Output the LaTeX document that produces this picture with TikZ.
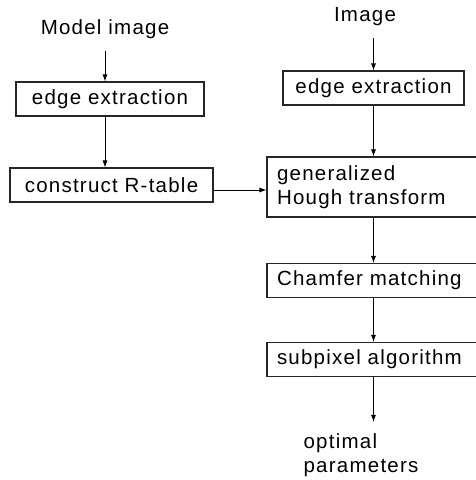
\documentclass[tikz,border=0pt]{standalone}
\usepackage{fontspec}
\setmainfont{Liberation Sans}[LetterSpace=6]
\usepackage{tikz}
\usetikzlibrary{arrows.meta}
\tikzstyle{stage}=[rectangle,
	line width=1.1pt,
	minimum height=34pt,
	draw=black!85]
\tikzstyle{wide}=[stage,
	text width=195pt,
	inner xsep=10pt,
	align=left]
\tikzstyle{caption}=[inner sep=0pt,
	outer sep=12pt]
\tikzstyle{flow}=[-{Latex[length=7pt,width=5pt]},
	line width=0.8pt]

\begin{document}
\begin{tikzpicture}[x=1pt, y=1pt, font=\fontsize{20.5}{24}\selectfont]
					\useasboundingbox (0,0) rectangle (476,-480);
					\clip (0,0) rectangle (476,-480);

					\node (model) [caption] at (105,-29) {Model image};
					\node (medge) [stage, minimum width=188pt, below of=model, node distance=70pt, xshift=5pt]{edge extraction};
					\draw[flow] (model.south) -- (model.south |- medge.north);
					\node (rtable) [stage, minimum width=203pt, below of=medge, node distance=86pt, xshift=1.5pt]{construct R-table};
					\draw[flow] (model.south |- medge.south) -- (model.south |- rtable.north);

					\node (image) [caption] at (365,-17) {Image};
					\node (iedge) [stage, minimum width=181pt, below of=image, node distance=71pt, xshift=8.5pt]{edge extraction};
					\draw[flow] (iedge.north |- image.south) -- (iedge.north);
					\node (ght) [wide, minimum height=60pt, below of=iedge, node distance=99pt, xshift=1pt]{generalized\\Hough transform};
					\draw[flow] (iedge.south) -- (iedge.south |- ght.north);
					\draw[flow] ([yshift=-5pt]rtable.east) -- ([yshift=-5pt]rtable.east -| ght.west);

					\node (chamfer) [wide, below of=ght, node distance=93.5pt]{Chamfer matching};
					\draw[flow] (iedge.south |- ght.south) -- (iedge.south |- chamfer.north);
					\node (subpix) [wide, below of=chamfer, node distance=79pt]{subpixel algorithm};
					\draw[flow] (iedge.south |- chamfer.south) -- (iedge.south |- subpix.north);

					\node (result) [caption, align=left, below of=subpix, node distance=96pt, xshift=-13.5pt]{optimal\\parameters};
					\draw[flow] (iedge.south |- subpix.south) -- (iedge.south |- result.north);
				\end{tikzpicture}
\end{document}
